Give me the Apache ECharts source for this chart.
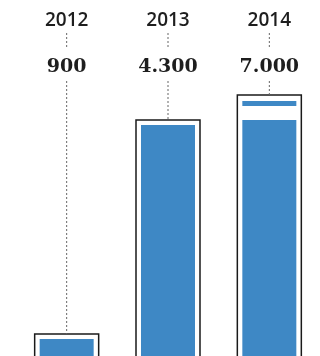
<!DOCTYPE html>
<html>
	<head>
		<meta charset="utf-8">
		<title></title>
		<script src="https://cdn.jsdelivr.net/npm/echarts@6/dist/echarts.min.js"></script>
		<style>
			html, body { margin: 0; padding: 0; background: #fff; }
		</style>
	</head>
	<body>
		<div id="main" style="width: 320px;height:356px;"></div>
		<script>
			// categories and printed values
			var years = ['2012', '2013', '2014'];
			var valueLabels = ['900', '4.300', '7.000'];
			// bar heights as drawn (the picture is not to scale), 0-100 units
			var outlineLevels = [6.2, 66.3, 73.3];
			var fillLevels = [4.8, 64.9, 66.3];
			var gapLevels = [0, 0, 3.9];
			var stripLevels = [0, 0, 1.4];

			var myChart = echarts.init(document.getElementById('main'));

			var option = {
				backgroundColor: '#fff',
				animation: false,
				grid: { left: 16, width: 305, top: 0, bottom: 0 },
				xAxis: { type: 'category', data: years, show: false },
				yAxis: { type: 'value', min: 0, max: 100, show: false },
				series: [
					{
						// black outline box around each bar
						type: 'custom',
						data: years.map(function (y, i) { return [i, outlineLevels[i]]; }),
						z: 1,
						silent: true,
						renderItem: function (params, api) {
							var top = api.coord([api.value(0), api.value(1)]);
							var base = api.coord([api.value(0), 0]);
							return {
								type: 'rect',
								shape: { x: top[0] - 32, y: top[1], width: 64, height: base[1] - top[1] + 6 },
								style: { fill: '#fff', stroke: '#1a1a1a', lineWidth: 1.5 }
							};
						}
					},
					{
						type: 'bar',
						stack: 'fill',
						data: fillLevels,
						barWidth: 54,
						itemStyle: { color: '#3e88c5' },
						z: 3
					},
					{
						type: 'bar',
						stack: 'fill',
						data: gapLevels,
						barWidth: 54,
						itemStyle: { color: 'rgba(0,0,0,0)' },
						z: 3
					},
					{
						type: 'bar',
						stack: 'fill',
						data: stripLevels,
						barWidth: 54,
						itemStyle: { color: '#3e88c5' },
						z: 3
					},
					{
						// year / value labels and dotted leaders
						type: 'custom',
						data: years.map(function (y, i) { return [i, outlineLevels[i]]; }),
						z: 4,
						renderItem: function (params, api) {
							var i = api.value(0);
							var x = api.coord([i, 0])[0];
							var barTop = api.coord([i, api.value(1)])[1];
							var dots = { stroke: '#666', lineWidth: 1, lineDash: [2, 2] };
							return {
								type: 'group',
								children: [
									{ type: 'text', style: { text: years[i], x: x, y: 21, align: 'center', verticalAlign: 'middle', font: '600 19px "Open Sans"', fill: '#1e1e1e' } },
									{ type: 'line', shape: { x1: x, y1: 33, x2: x, y2: 48 }, style: dots },
									{ type: 'text', style: { text: valueLabels[i], x: x, y: 67, align: 'center', verticalAlign: 'middle', font: 'bold 19px "DejaVu Serif"', fill: '#1e1e1e' } },
									{ type: 'line', shape: { x1: x, y1: 81, x2: x, y2: barTop }, style: dots }
								]
							};
						}
					}
				]
			};
			myChart.setOption(option);
		</script>
	</body>
</html>
